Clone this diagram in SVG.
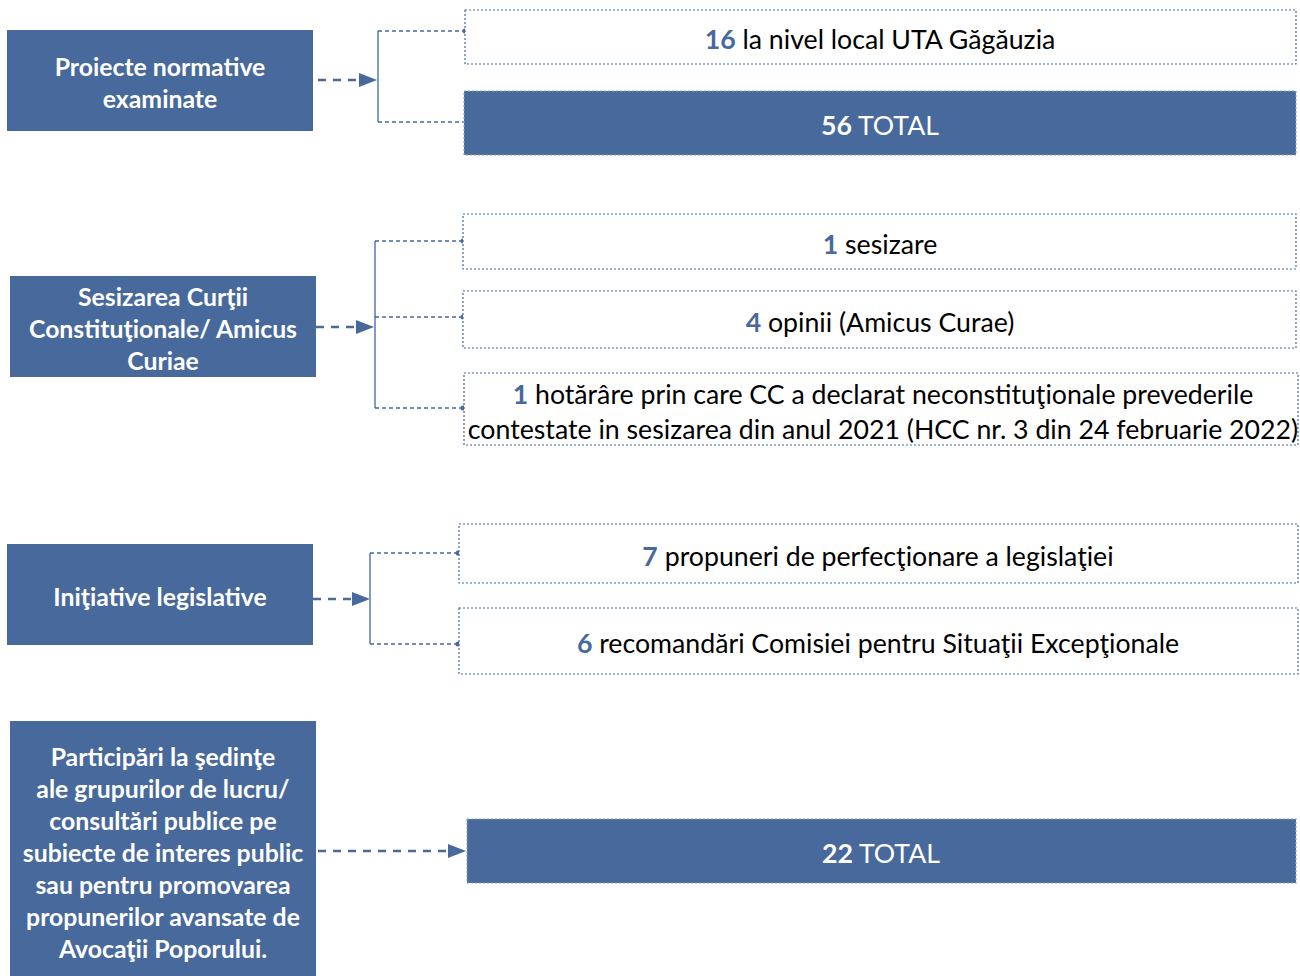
<svg xmlns="http://www.w3.org/2000/svg" width="1300" height="976" viewBox="0 0 1300 976">
<defs>
<style>
.node{fill:#47699B}
.lt{fill:#fff;font-family:Lato,"Open Sans",sans-serif;font-weight:bold;font-size:24.8px;text-anchor:middle}
.box{fill:#fff;stroke:#47699B;stroke-width:1.2;stroke-dasharray:2 2}
.fbox{fill:#47699B;stroke:#8FA5C6;stroke-width:1.2;stroke-dasharray:2 2}
.rt{fill:#000;font-family:Lato,"Open Sans",sans-serif;font-size:26.7px;text-anchor:middle}
.rtw{fill:#fff;font-family:Lato,"Open Sans",sans-serif;font-size:26.7px;text-anchor:middle}
.num{fill:#47699B;font-weight:bold}
.numw{fill:#fff;font-weight:bold}
.arr{stroke:#47699B;stroke-width:2.5;stroke-dasharray:8 7;fill:none}
.brk{stroke:#7590B7;stroke-width:1.8;fill:none}
.br{stroke:#47699B;stroke-width:1.5;stroke-dasharray:4 3;fill:none}
.dot{fill:#47699B}
</style>
<marker id="ah2" viewBox="0 0 10 10" refX="10" refY="5" markerWidth="18" markerHeight="14" markerUnits="userSpaceOnUse" orient="auto" preserveAspectRatio="none">
<path d="M0,0 L10,5 L0,10 Z" fill="#47699B"/>
</marker>
</defs>
<rect width="1300" height="976" fill="#fff"/>

<g id="connectors">
<line class="arr" x1="318" y1="80" x2="377" y2="80" marker-end="url(#ah2)"/>
<line class="brk" x1="378" y1="31" x2="378" y2="122"/>
<line class="br" x1="378" y1="31" x2="465" y2="31"/>
<line class="br" x1="378" y1="122" x2="465" y2="122"/>
<circle class="dot" cx="465" cy="31" r="2.5"/>

<line class="arr" x1="316" y1="327" x2="374" y2="327" marker-end="url(#ah2)"/>
<line class="brk" x1="375" y1="241" x2="375" y2="408"/>
<line class="br" x1="375" y1="241" x2="463" y2="241"/>
<line class="br" x1="375" y1="317" x2="463" y2="317"/>
<line class="br" x1="375" y1="408" x2="463" y2="408"/>
<circle class="dot" cx="463" cy="241" r="2.5"/>
<circle class="dot" cx="463" cy="317" r="2.5"/>
<circle class="dot" cx="463" cy="408" r="2.5"/>

<line class="arr" x1="313" y1="599" x2="370" y2="599" marker-end="url(#ah2)"/>
<line class="brk" x1="370" y1="553" x2="370" y2="644"/>
<line class="br" x1="370" y1="553" x2="458" y2="553"/>
<line class="br" x1="370" y1="644" x2="458" y2="644"/>
<circle class="dot" cx="458" cy="553" r="2.5"/>
<circle class="dot" cx="458" cy="644" r="2.5"/>

<line class="arr" x1="318" y1="851" x2="466" y2="851" marker-end="url(#ah2)"/>
</g>

<g id="n1">
<rect class="node" x="7" y="30" width="306" height="101"/>
<text class="lt" x="160" y="76">Proiecte normative</text>
<text class="lt" x="160" y="108">examinate</text>
</g>
<g id="r1a">
<rect class="box" x="465" y="10" width="831" height="54"/>
<text class="rt" x="880" y="49"><tspan class="num">16</tspan> la nivel local UTA Găgăuzia</text>
</g>
<g id="r1b">
<rect class="fbox" x="464" y="91" width="832" height="64"/>
<text class="rtw" x="880" y="135"><tspan class="numw">56</tspan> TOTAL</text>
</g>

<g id="n2">
<rect class="node" x="10" y="276" width="306" height="101"/>
<text class="lt" x="163" y="306">Sesizarea Curţii</text>
<text class="lt" x="163" y="338">Constituţionale/ Amicus</text>
<text class="lt" x="163" y="370">Curiae</text>
</g>
<g id="r2a">
<rect class="box" x="463" y="214" width="833" height="55"/>
<text class="rt" x="880" y="254"><tspan class="num">1</tspan> sesizare</text>
</g>
<g id="r2b">
<rect class="box" x="463" y="291" width="833" height="57"/>
<text class="rt" x="880" y="332"><tspan class="num">4</tspan> opinii (Amicus Curae)</text>
</g>
<g id="r2c">
<rect class="box" x="464" y="373" width="834" height="72"/>
<text class="rt" x="883" y="404"><tspan class="num">1</tspan> hotărâre prin care CC a declarat neconstituţionale prevederile</text>
<text class="rt" x="883" y="439">contestate in sesizarea din anul 2021 (HCC nr. 3 din 24 februarie 2022)</text>
</g>

<g id="n3">
<rect class="node" x="7" y="544" width="306" height="101"/>
<text class="lt" x="160" y="606">Iniţiative legislative</text>
</g>
<g id="r3a">
<rect class="box" x="459" y="524" width="839" height="59"/>
<text class="rt" x="878" y="566"><tspan class="num">7</tspan> propuneri de perfecţionare a legislaţiei</text>
</g>
<g id="r3b">
<rect class="box" x="459" y="608" width="839" height="66"/>
<text class="rt" x="878" y="653"><tspan class="num">6</tspan> recomandări Comisiei pentru Situaţii Excepţionale</text>
</g>

<g id="n4">
<rect class="node" x="10" y="721" width="306" height="260"/>
<text class="lt" x="163" y="766">Participări la şedinţe</text>
<text class="lt" x="163" y="798">ale grupurilor de lucru/</text>
<text class="lt" x="163" y="830">consultări publice pe</text>
<text class="lt" x="163" y="862">subiecte de interes public</text>
<text class="lt" x="163" y="894">sau pentru promovarea</text>
<text class="lt" x="163" y="926">propunerilor avansate de</text>
<text class="lt" x="163" y="958">Avocaţii Poporului.</text>
</g>
<g id="r4">
<rect class="fbox" x="467" y="819" width="829" height="64"/>
<text class="rtw" x="881" y="863"><tspan class="numw">22</tspan> TOTAL</text>
</g>
</svg>
